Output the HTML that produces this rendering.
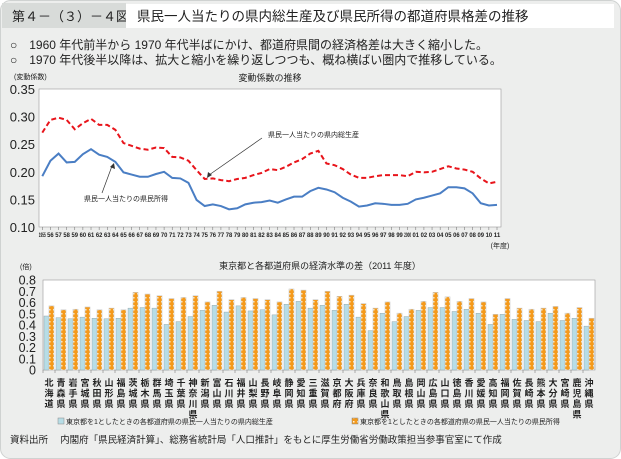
<!DOCTYPE html>
<html><head><meta charset="utf-8">
<style>
body{margin:0;background:#fff;}
svg{display:block;font-family:"Liberation Sans","Noto Sans CJK JP",sans-serif;}
</style></head>
<body>
<svg id="root" width="621" height="459" viewBox="0 0 621 459">
<defs>
<pattern id="hatch" width="4" height="4" patternUnits="userSpaceOnUse">
<rect width="4" height="4" fill="#f59a1b"/>
<rect x="1" y="1" width="1.5" height="1.5" fill="#fff3d6"/>
</pattern>
</defs>
<rect x="0.5" y="0.5" width="620" height="458" rx="10" fill="#edeeed" stroke="#cfd2d1"/>
<rect x="2" y="3" width="124" height="25" fill="#d8dbd9"/>
<text x="12" y="21" font-size="13" fill="#222">第４－（３）－４図</text>
<rect x="126" y="4" width="488" height="24" fill="#fff"/>
<text x="137" y="21" font-size="13.5" fill="#222">県民一人当たりの県内総生産及び県民所得の都道府県格差の推移</text>
<text x="10" y="49" font-size="12" fill="#222">○　1960 年代前半から 1970 年代半ばにかけ、都道府県間の経済格差は大きく縮小した。</text>
<text x="10" y="64" font-size="12" fill="#222">○　1970 年代後半以降は、拡大と縮小を繰り返しつつも、概ね横ばい圏内で推移している。</text>

<g id="line-chart">
<text x="14" y="79" font-size="7" fill="#222">(変動係数)</text>
<text x="270" y="81" font-size="9" text-anchor="middle" fill="#222">変動係数の推移</text>
<rect x="39" y="89" width="462" height="138" fill="#fff" stroke="#999" stroke-width="0.6"/>
<g id="ly"></g><g id="lx"></g><g id="lines"></g>
<text x="268" y="137" font-size="7" fill="#222">県民一人当たりの県内総生産</text>
<line x1="262" y1="138" x2="209" y2="175" stroke="#333" stroke-width="0.7"/>
<polygon points="207,178 208,172 212,175" fill="#333"/>
<text x="84" y="201" font-size="7" fill="#222">県民一人当たりの県民所得</text>
<line x1="102" y1="193" x2="112" y2="166" stroke="#333" stroke-width="0.7"/>
<polygon points="114,163 115,169 110,167" fill="#333"/>
<text x="500" y="248" font-size="7" text-anchor="middle" fill="#222">(年度)</text>
</g>

<g id="bar-chart">
<text x="20" y="269" font-size="7" fill="#222">(倍)</text>
<text x="320" y="269" font-size="9" text-anchor="middle" fill="#222">東京都と各都道府県の経済水準の差（2011 年度）</text>
<rect x="43" y="280" width="552" height="90" fill="#fff" stroke="#999" stroke-width="0.6"/>
<g id="by"></g><g id="bars"></g><g id="bx"></g>
<rect x="58" y="418" width="6" height="6" fill="#b7dde6" stroke="#888" stroke-width="0.5"/>
<text x="66" y="424" font-size="7" fill="#222">東京都を1としたときの各都道府県の県民一人当たりの県内総生産</text>
<rect x="352" y="418" width="6" height="6" fill="url(#hatch)" stroke="#888" stroke-width="0.5"/>
<text x="360" y="424" font-size="7" fill="#222">東京都を1としたときの各都道府県の県民一人当たりの県民所得</text>
</g>
<text x="10" y="443" font-size="9.5" fill="#222">資料出所　 内閣府「県民経済計算」、総務省統計局「人口推計」をもとに厚生労働省労働政策担当参事官室にて作成</text>
</svg>
<script>
const years=[1955,1956,1957,1958,1959,1960,1961,1962,1963,1964,1965,1966,1967,1968,1969,1970,1971,1972,1973,1974,1975,1976,1977,1978,1979,1980,1981,1982,1983,1984,1985,1986,1987,1988,1989,1990,1991,1992,1993,1994,1995,1996,1997,1998,1999,2000,2001,2002,2003,2004,2005,2006,2007,2008,2009,2010,2011];
const yearLabels=["1955","56","57","58","59","60","61","62","63","64","65","66","67","68","69","70","71","72","73","74","75","76","77","78","79","80","81","82","83","84","85","86","87","88","89","90","91","92","93","94","95","96","97","98","99","2000","01","02","03","04","05","06","07","08","09","10","11"];
const gdpCV=[0.271,0.294,0.298,0.294,0.277,0.288,0.296,0.285,0.285,0.276,0.252,0.247,0.242,0.240,0.244,0.243,0.227,0.226,0.220,0.203,0.187,0.188,0.185,0.183,0.187,0.189,0.194,0.198,0.205,0.203,0.209,0.217,0.223,0.233,0.238,0.215,0.212,0.205,0.195,0.189,0.189,0.192,0.194,0.194,0.194,0.192,0.200,0.199,0.200,0.205,0.210,0.206,0.204,0.200,0.188,0.179,0.182];
const incomeCV=[0.192,0.220,0.233,0.217,0.218,0.232,0.241,0.231,0.227,0.218,0.199,0.195,0.191,0.191,0.196,0.200,0.189,0.188,0.180,0.149,0.138,0.141,0.138,0.132,0.134,0.141,0.144,0.145,0.148,0.144,0.150,0.155,0.155,0.165,0.171,0.168,0.163,0.153,0.146,0.137,0.139,0.143,0.142,0.140,0.140,0.142,0.150,0.153,0.157,0.161,0.172,0.172,0.170,0.161,0.143,0.139,0.140];
const lineTicks=[0.10,0.15,0.20,0.25,0.30,0.35];
const prefs=["北海道","青森県","岩手県","宮城県","秋田県","山形県","福島県","茨城県","栃木県","群馬県","埼玉県","千葉県","神奈川県","新潟県","富山県","石川県","福井県","山梨県","長野県","岐阜県","静岡県","愛知県","三重県","滋賀県","京都府","大阪府","兵庫県","奈良県","和歌山県","鳥取県","島根県","岡山県","広島県","山口県","徳島県","香川県","愛媛県","高知県","福岡県","佐賀県","長崎県","熊本県","大分県","宮崎県","鹿児島県","沖縄県"];
const gdpRatio=[0.48,0.465,0.455,0.47,0.46,0.455,0.46,0.55,0.555,0.55,0.405,0.43,0.475,0.53,0.575,0.515,0.57,0.525,0.535,0.49,0.585,0.61,0.55,0.575,0.53,0.585,0.47,0.35,0.505,0.43,0.475,0.53,0.555,0.555,0.52,0.54,0.505,0.405,0.495,0.45,0.44,0.43,0.505,0.44,0.46,0.39];
const incomeRatio=[0.57,0.535,0.54,0.56,0.535,0.55,0.535,0.69,0.675,0.66,0.635,0.645,0.66,0.605,0.70,0.625,0.645,0.635,0.625,0.605,0.72,0.71,0.625,0.70,0.655,0.665,0.59,0.55,0.605,0.505,0.54,0.61,0.69,0.65,0.61,0.635,0.605,0.495,0.635,0.55,0.54,0.55,0.565,0.505,0.555,0.46];
const barTicks=[0,0.1,0.2,0.3,0.4,0.5,0.6,0.7,0.8];

const NS="http://www.w3.org/2000/svg";
function mk(tag,attrs,parent,txt){const e=document.createElementNS(NS,tag);for(const k in attrs)e.setAttribute(k,attrs[k]);if(txt!==undefined)e.textContent=txt;parent.appendChild(e);return e;}
const lx=i=>42.3+i*(497-42.3)/(years.length-1);
const ly=v=>227-(v-0.10)/0.25*138;
const gy=document.getElementById('ly');
lineTicks.forEach(t=>{
  const tx=mk('text',{x:35,y:ly(t)+5,'font-size':13,'text-anchor':'end',fill:'#222'},gy,t.toFixed(2));
  
  
});
const gx=document.getElementById('lx');
yearLabels.forEach((l,i)=>{
  const tk=mk('line',{x1:lx(i),x2:lx(i),y1:227,y2:230,stroke:'#666','stroke-width':0.5},gx);
  
  
  const tx=mk('text',{x:lx(i),y:237,'font-size':6.5,'text-anchor':'middle',fill:'#222','font-weight':'bold',textLength:l.length>2?7:6.5,lengthAdjust:'spacingAndGlyphs'},gx,l);
  
  
});
const gl=document.getElementById('lines');
const p1=mk('polyline',{points:gdpCV.map((v,i)=>lx(i)+','+ly(v)).join(' '),fill:'none',stroke:'#e8141b','stroke-width':2,'stroke-dasharray':'5,3'},gl);


const p2=mk('polyline',{points:incomeCV.map((v,i)=>lx(i)+','+ly(v)).join(' '),fill:'none',stroke:'#4a7ec4','stroke-width':2},gl);


const bw=552/prefs.length;
const bxf=i=>43+i*bw;
const byf=v=>370-v/0.8*90;
const gby=document.getElementById('by');
barTicks.forEach(t=>{
  const tx=mk('text',{x:36,y:byf(t)+4.5,'font-size':12.5,'text-anchor':'end',fill:'#222'},gby,t===0?'0':t.toFixed(1));
  
  
});
const gb=document.getElementById('bars');
prefs.forEach((p,i)=>{
  const b1=mk('rect',{x:bxf(i)+1,y:byf(gdpRatio[i]),width:5,height:370-byf(gdpRatio[i]),fill:'#b7dde6',stroke:'#8a9a9e','stroke-width':0.4},gb);
  
  
  const b2=mk('rect',{x:bxf(i)+6,y:byf(incomeRatio[i]),width:5,height:370-byf(incomeRatio[i]),fill:'url(#hatch)',stroke:'#c9c9c9','stroke-width':0.6},gb);
  
  
});
const gbx=document.getElementById('bx');
prefs.forEach((p,i)=>{
  const tk=mk('line',{x1:bxf(i),x2:bxf(i),y1:370,y2:373,stroke:'#666','stroke-width':0.5},gbx);
  
  
  const t=mk('text',{'font-size':9,'font-weight':'bold','text-anchor':'middle',fill:'#222'},gbx);
  
  
  [...p].forEach((c,k)=>{mk('tspan',{x:bxf(i)+bw/2,y:386+k*10.5},t,c);});
});
</script>
</body></html>
